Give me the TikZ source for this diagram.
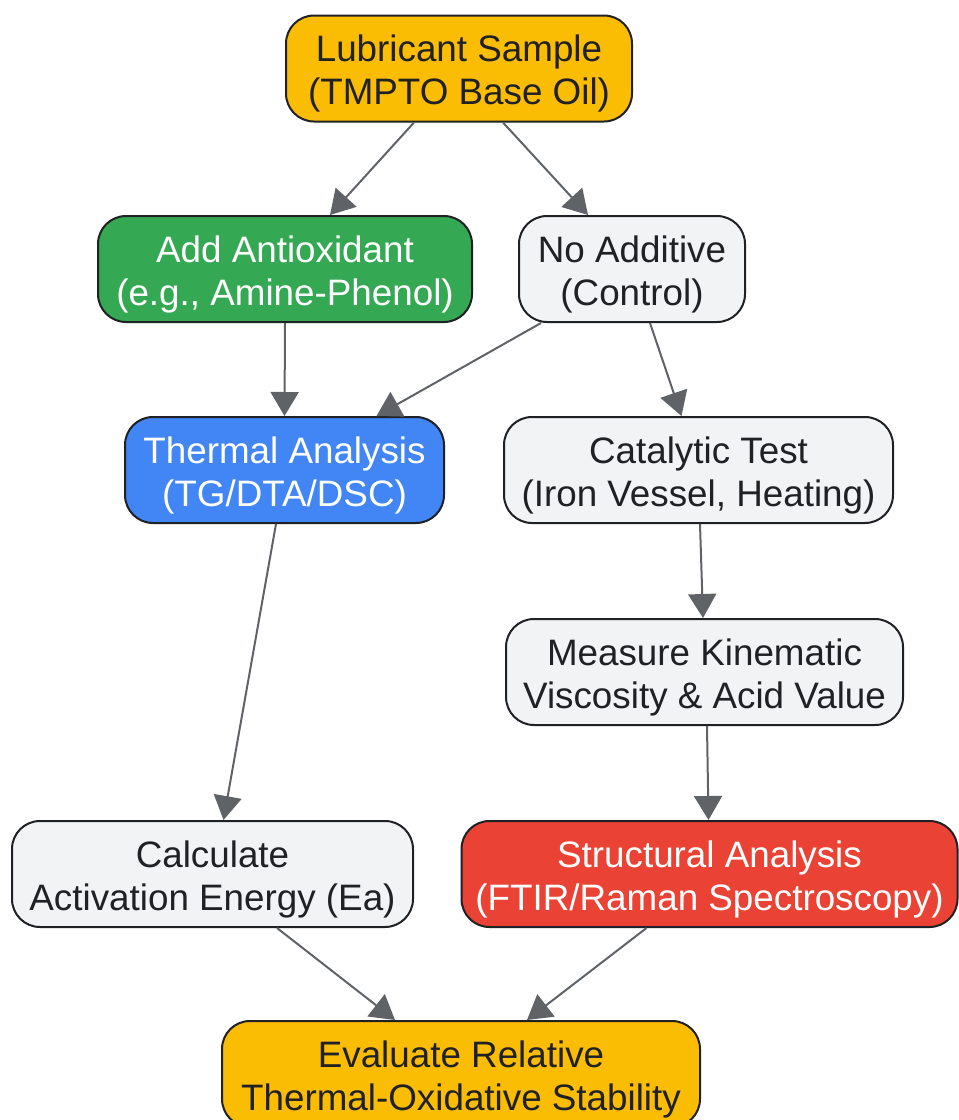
\documentclass[tikz,border=0pt]{standalone}
\usepackage{fontspec}
\setmainfont{Liberation Sans}
\usetikzlibrary{arrows.meta}

\definecolor{cOrange}{HTML}{FBBC04}
\definecolor{cGreen}{HTML}{34A853}
\definecolor{cBlue}{HTML}{4285F4}
\definecolor{cRed}{HTML}{EA4335}
\definecolor{cGray}{HTML}{F1F3F4}
\definecolor{cLine}{HTML}{5F6368}
\definecolor{cText}{HTML}{202124}

\newcommand\topgap[0]{\rule{0pt}{37pt}}
\newcommand\txtL  [0]{\topgap Lubricant Sample\\(TMPTO Base Oil)}
\newcommand\txtAO [0]{\topgap Add Antioxidant\\(e.g., Amine-Phenol)}
\newcommand\txtNA [0]{\topgap No Additive\\(Control)}
\newcommand\txtTA [0]{\topgap Thermal Analysis\\(TG/DTA/DSC)}
\newcommand\txtCT [0]{\topgap Catalytic Test\\(Iron Vessel, Heating)}
\newcommand\txtMV [0]{\topgap Measure Kinematic\\Viscosity \& Acid Value}
\newcommand\txtCE [0]{\topgap Calculate\\Activation Energy (Ea)}
\newcommand\txtSA [0]{\topgap Structural Analysis\\(FTIR/Raman Spectroscopy)}
\newcommand\txtEV [0]{\topgap Evaluate Relative\\Thermal-Oxidative Stability}

\tikzset{
  every node/.style={font=\fontsize{36.8}{43}\selectfont}
}
\tikzset{flow box/.style={draw=cText,line width=2pt,rounded corners=28pt,minimum height=106pt,
    align=center,inner sep=0pt,fill=#1,text=cText}}

\begin{document}
\begin{tikzpicture}[x=1pt,y=-1pt]
  \tikzset{flow arrow/.style={draw=cLine,line width=2pt,-{Triangle[length=24pt,width=28pt]}}}
  \useasboundingbox (0,0) rectangle (959,1120);

  \node [flow box = cOrange, minimum width=346pt]            (L)  at (459,68.5)  {\txtL};
  \node [flow box = cGreen, text=white, minimum width=374pt] (AO) at (285,269)   {\txtAO};
  \node [flow box = cGray, minimum width=226pt]              (NA) at (632,269)   {\txtNA};
  \node [flow box = cBlue, text=white, minimum width=319pt]  (TA) at (284.5,470) {\txtTA};
  \node [flow box = cGray, minimum width=389pt]              (CT) at (698.5,470) {\txtCT};
  \node [flow box = cGray, minimum width=397pt]              (MV) at (704.5,672) {\txtMV};
  \node [flow box = cGray, minimum width=401pt]              (CE) at (212.5,874) {\txtCE};
  \node [flow box = cRed, text=white, minimum width=496pt]   (SA) at (709.5,874) {\txtSA};
  \node [flow box = cOrange, minimum width=478pt]            (EV) at (461,1074)  {\txtEV};

  \draw [flow arrow] ([xshift=-45pt]L.south)  -- ([xshift=45pt]AO.north);
  \draw [flow arrow] ([xshift=44pt]L.south)   -- ([xshift=-44pt]NA.north);
  \draw [flow arrow] (AO.south)               -- (TA.north);
  \draw [flow arrow] ([xshift=-91pt]NA.south) -- ([xshift=92pt]TA.north);
  \draw [flow arrow] ([xshift=18pt]NA.south)  -- ([xshift=-17pt]CT.north);
  \draw [flow arrow] ([xshift=-8.5pt]TA.south) -- ([xshift=11pt]CE.north);
  \draw [flow arrow] ([xshift=1.5pt]CT.south) -- ([xshift=-1.5pt]MV.north);
  \draw [flow arrow] ([xshift=2.5pt]MV.south) -- ([xshift=-1pt]SA.north);
  \draw [flow arrow] ([xshift=64.5pt]CE.south) -- ([xshift=-66pt]EV.north);
  \draw [flow arrow] ([xshift=-63pt]SA.south) -- ([xshift=66pt]EV.north);

\end{tikzpicture}
\end{document}
